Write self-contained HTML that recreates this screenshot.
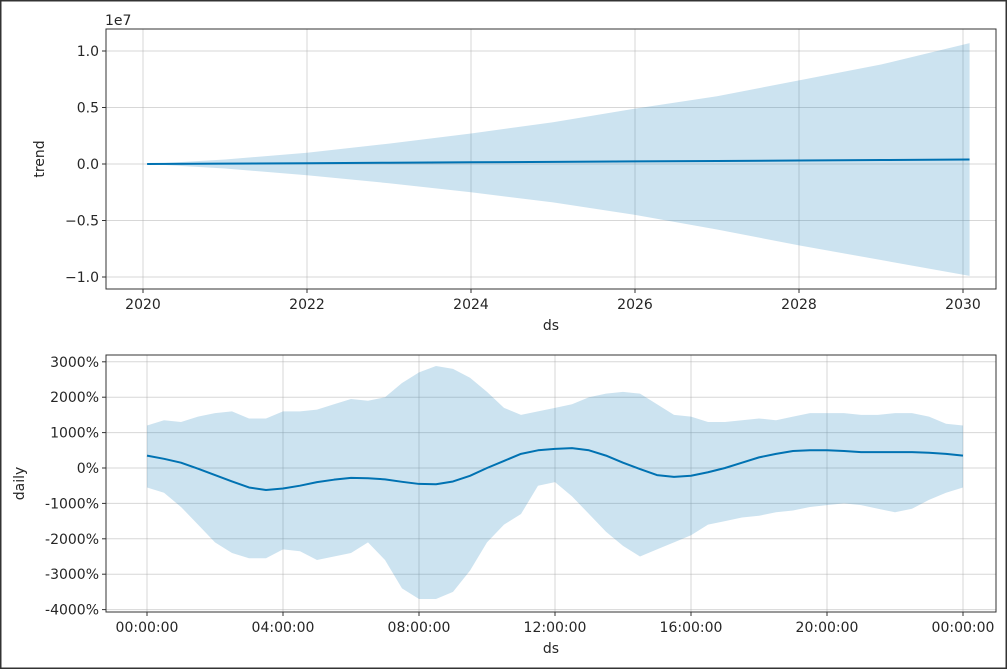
<!DOCTYPE html>
<html><head><meta charset="utf-8"><style>
html,body{margin:0;padding:0;background:#fff}
svg{display:block}
text{font-family:"DejaVu Sans","Liberation Sans",sans-serif;fill:#262626}
</style></head><body>
<svg id="c" width="1007" height="669" xmlns="http://www.w3.org/2000/svg">
<rect x="0" y="0" width="1007" height="669" fill="#fff" stroke="#333" stroke-width="3"/>
</svg>
<script>
// ---- trend panel data ----
const trendYears=[2020.05,2021,2022,2023,2024,2025,2026,2027,2028,2029,2030.08];
const trendValues=[0,0.003,0.007,0.011,0.015,0.019,0.023,0.027,0.031,0.035,0.04];
const trendUpper=[0,0.04,0.1,0.18,0.27,0.37,0.49,0.6,0.74,0.88,1.07];
const trendLower=[0,-0.04,-0.1,-0.17,-0.25,-0.34,-0.45,-0.58,-0.72,-0.85,-0.99];
const trendYTicks=[1.0,0.5,0.0,-0.5,-1.0];
const trendYTickLabels=["1.0","0.5","0.0","\u22120.5","\u22121.0"];
const trendXTicks=[2020,2022,2024,2026,2028,2030];
// ---- daily panel data ----
const dailyHours=[0,0.5,1,1.5,2,2.5,3,3.5,4,4.5,5,5.5,6,6.5,7,7.5,8,8.5,9,9.5,10,10.5,11,11.5,12,12.5,13,13.5,14,14.5,15,15.5,16,16.5,17,17.5,18,18.5,19,19.5,20,20.5,21,21.5,22,22.5,23,23.5,24];
const dailyValues=[350,260,150,-20,-200,-380,-550,-620,-580,-500,-400,-330,-280,-290,-320,-390,-450,-460,-380,-220,0,200,400,500,540,560,500,350,150,-30,-200,-250,-220,-120,0,150,300,400,480,500,500,480,450,450,450,450,430,400,350];
const dailyUpper=[1200,1350,1300,1450,1550,1600,1400,1400,1600,1600,1650,1800,1950,1900,2000,2400,2700,2880,2800,2550,2150,1700,1500,1600,1700,1800,2000,2100,2150,2100,1800,1500,1450,1300,1300,1350,1400,1350,1450,1550,1550,1550,1500,1500,1550,1550,1450,1250,1200];
const dailyLower=[-550,-700,-1100,-1600,-2100,-2400,-2550,-2550,-2300,-2350,-2600,-2500,-2400,-2100,-2600,-3400,-3700,-3700,-3500,-2900,-2100,-1600,-1300,-500,-400,-800,-1300,-1800,-2200,-2500,-2300,-2100,-1900,-1600,-1500,-1400,-1350,-1250,-1200,-1100,-1050,-1000,-1050,-1150,-1250,-1150,-900,-700,-550];
const dailyYTicks=[3000,2000,1000,0,-1000,-2000,-3000,-4000];
const dailyXTicks=[0,4,8,12,16,20,24];
const dailyXTickLabels=["00:00:00","04:00:00","08:00:00","12:00:00","16:00:00","20:00:00","00:00:00"];

const NS="http://www.w3.org/2000/svg";
const svg=document.getElementById('c');
const FS=14;
function el(tag,attrs,parent){const e=document.createElementNS(NS,tag);for(const k in attrs)e.setAttribute(k,attrs[k]);(parent||svg).appendChild(e);return e;}

function panel(cfg){
  const g=el('g',{});
  
  
  const {L,T,R,B}=cfg;
  cfg.xt.forEach((v,i)=>{const x=cfg.sx(v);
    const gl=el('line',{x1:x,x2:x,y1:T,y2:B,stroke:'#b0b0b0','stroke-opacity':0.5,'stroke-width':1},g);
    
    const tk=el('line',{x1:x,x2:x,y1:B,y2:B+4,stroke:'#333'},g);
    
    const t=el('text',{x:x,y:B+20,'text-anchor':'middle','font-size':FS},g);t.textContent=cfg.xl[i];
    
  });
  cfg.yt.forEach((v,i)=>{const y=cfg.sy(v);
    const gl=el('line',{x1:L,x2:R,y1:y,y2:y,stroke:'#b0b0b0','stroke-opacity':0.5,'stroke-width':1},g);
    
    const tk=el('line',{x1:L-4,x2:L,y1:y,y2:y,stroke:'#333'},g);
    
    const t=el('text',{x:L-7,y:y+5,'text-anchor':'end','font-size':FS},g);t.textContent=cfg.yl[i];
    
  });
  let d='';
  cfg.xs.forEach((v,i)=>{d+=(i?'L':'M')+cfg.sx(v)+','+cfg.sy(cfg.up[i]);});
  for(let i=cfg.xs.length-1;i>=0;i--)d+='L'+cfg.sx(cfg.xs[i])+','+cfg.sy(cfg.lo[i]);
  const band=el('path',{d:d+'Z',fill:'#0072B2','fill-opacity':0.2,stroke:'none'},g);
  
  let d2='';
  cfg.xs.forEach((v,i)=>{d2+=(i?'L':'M')+cfg.sx(v)+','+cfg.sy(cfg.ys[i]);});
  const line=el('path',{d:d2,fill:'none',stroke:'#0072B2','stroke-width':2,'stroke-linejoin':'round'},g);
  
  const fr=el('rect',{x:L,y:T,width:R-L,height:B-T,fill:'none',stroke:'#333','stroke-width':1},g);
  
  const xl=el('text',{x:(L+R)/2,y:B+41,'text-anchor':'middle','font-size':FS},g);xl.textContent='ds';
  
  const yl=el('text',{x:cfg.ylx,y:(T+B)/2,'text-anchor':'middle','font-size':FS,transform:`rotate(-90 ${cfg.ylx} ${(T+B)/2})`},g);yl.textContent=cfg.ytitle;
  
}
panel({name:'trend-panel',L:106,T:29,R:996,B:289,
  sx:v=>143+(v-2020)*82, sy:v=>164-v*113,
  xt:trendXTicks, xl:trendXTicks.map(String), yt:trendYTicks, yl:trendYTickLabels,
  xs:trendYears, ys:trendValues, up:trendUpper, lo:trendLower, ytitle:'trend', ylx:44});
const ex=el('text',{x:105,y:25,'font-size':FS});ex.textContent='1e7';


panel({name:'daily-panel',L:106,T:355,R:996,B:612,
  sx:v=>147+v*34, sy:v=>468-v*0.0354,
  xt:dailyXTicks, xl:dailyXTickLabels, yt:dailyYTicks, yl:dailyYTicks.map(v=>v+'%'),
  xs:dailyHours, ys:dailyValues, up:dailyUpper, lo:dailyLower, ytitle:'daily', ylx:24});
</script>
</body></html>
